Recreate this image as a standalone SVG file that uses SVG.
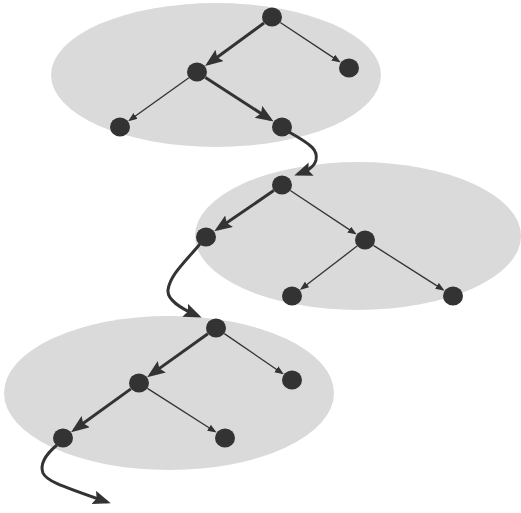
<svg xmlns="http://www.w3.org/2000/svg" width="521" height="513" viewBox="0 0 521 513">
<style>
.region{fill:#dadada;stroke:none}
.node{fill:#333333}
.thick{fill:none;stroke:#333333;stroke-width:3;marker-end:url(#big)}
.thin{fill:none;stroke:#333333;stroke-width:1.3;marker-end:url(#small)}
</style>
<defs>
<marker id="big" markerUnits="userSpaceOnUse" markerWidth="20" markerHeight="16" refX="14" refY="7" orient="auto">
<path d="M0,0 L18,7 L0,14 L3,7 z" fill="#333333"/>
</marker>
<marker id="small" markerUnits="userSpaceOnUse" markerWidth="11" markerHeight="9" refX="7" refY="3.5" orient="auto">
<path d="M0,0 L9,3.5 L0,7 z" fill="#333333"/>
</marker>
</defs>
<g id="regions">
<ellipse class="region" cx="216" cy="75" rx="165" ry="72"/>
<ellipse class="region" cx="358" cy="236" rx="163" ry="74"/>
<ellipse class="region" cx="169" cy="393" rx="165" ry="77"/>
</g>
<g id="connectors">
<path class="thick" d="M264,23 L208.3,63.7"/>
<path class="thick" d="M205.4,77.4 L270.2,119.4"/>
<path class="thin" d="M280.3,22.5 L339,61.4"/>
<path class="thin" d="M188.9,77.8 L129.8,120"/>
<path class="thick" d="M289,132 C312,145 318,150 316,160 C314,168 306,171 298,174"/>
<path class="thick" d="M273.8,190.6 L217.6,229.1"/>
<path class="thin" d="M290.3,190.5 L355,233.4"/>
<path class="thin" d="M357.1,246.1 L301.5,288.7"/>
<path class="thin" d="M373.4,245.4 L442.9,289.6"/>
<path class="thick" d="M200,244 C185,262 170,275 168,290 C167,300 180,308 198,316"/>
<path class="thick" d="M207.9,333.8 L150.4,374.9"/>
<path class="thin" d="M224.3,333.6 L282.1,373.2"/>
<path class="thick" d="M130.9,388.9 L74.3,429.8"/>
<path class="thin" d="M147.4,388.4 L214.9,431.5"/>
<path class="thick" d="M57,445 C45,455 40,465 43,473 C46,480 55,484 107,502"/>
</g>
<g id="n1"><ellipse class="node" cx="272" cy="17" rx="10" ry="9.5"/></g>
<g id="n2"><ellipse class="node" cx="197" cy="72" rx="10" ry="9.5"/></g>
<g id="n3"><ellipse class="node" cx="349" cy="68" rx="10" ry="9.5"/></g>
<g id="n4"><ellipse class="node" cx="120" cy="127" rx="10" ry="9.5"/></g>
<g id="n5"><ellipse class="node" cx="282" cy="127" rx="10" ry="9.5"/></g>
<g id="n6"><ellipse class="node" cx="282" cy="185" rx="10" ry="9.5"/></g>
<g id="n7"><ellipse class="node" cx="206" cy="237" rx="10" ry="9.5"/></g>
<g id="n8"><ellipse class="node" cx="365" cy="240" rx="10" ry="9.5"/></g>
<g id="n9"><ellipse class="node" cx="292" cy="296" rx="10" ry="9.5"/></g>
<g id="n10"><ellipse class="node" cx="453" cy="296" rx="10" ry="9.5"/></g>
<g id="n11"><ellipse class="node" cx="216" cy="328" rx="10" ry="9.5"/></g>
<g id="n12"><ellipse class="node" cx="139" cy="383" rx="10" ry="9.5"/></g>
<g id="n13"><ellipse class="node" cx="292" cy="380" rx="10" ry="9.5"/></g>
<g id="n14"><ellipse class="node" cx="63" cy="438" rx="10" ry="9.5"/></g>
<g id="n15"><ellipse class="node" cx="225" cy="438" rx="10" ry="9.5"/></g>
</svg>
